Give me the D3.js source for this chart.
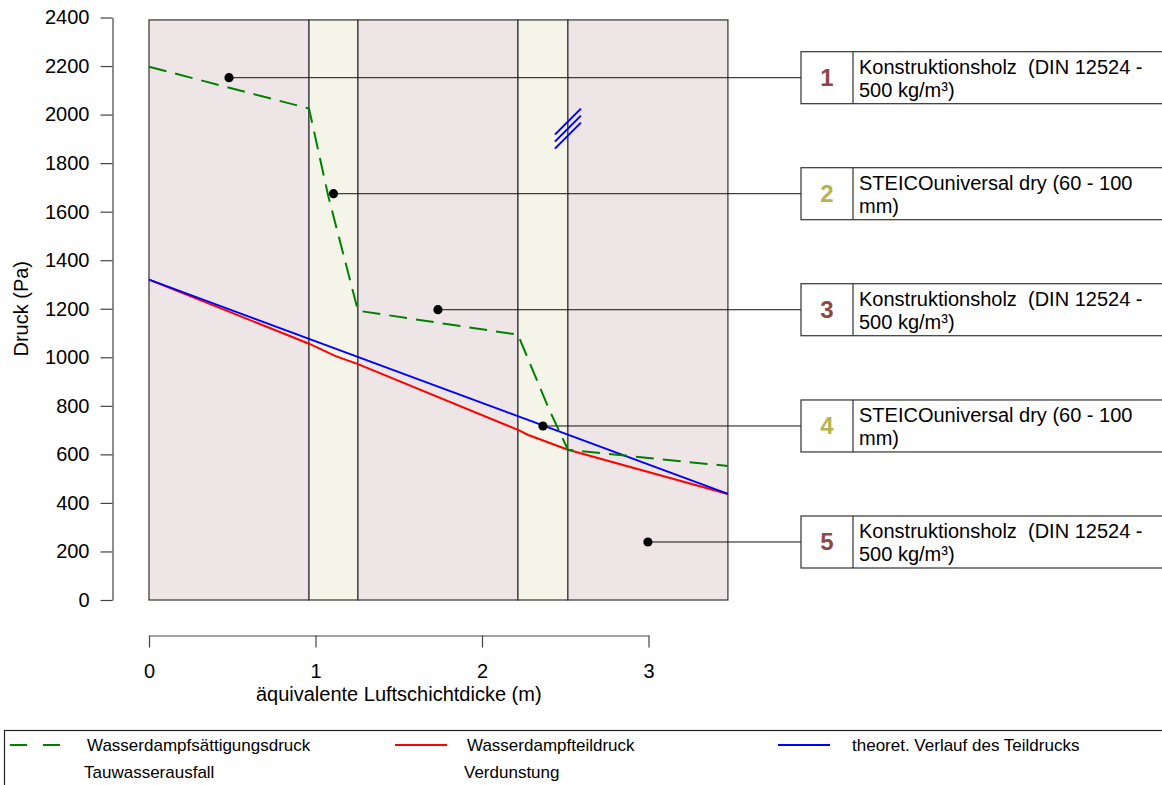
<!DOCTYPE html>
<meta charset="utf-8">
<style>
body { margin: 0; background: #fff; }
svg { font-family: "Liberation Sans", Arial, sans-serif; }
.axis text { font-size: 20px; fill: #000; }
.axis path, .axis line { stroke: #444; stroke-width: 1.2px; }
.boxtext { font-size: 20px; white-space: pre; }
.legtext { font-size: 17px; }
</style>
<svg width="1162" height="785"></svg>
<script src="https://cdn.jsdelivr.net/npm/d3@7/dist/d3.min.js"></script>
<script>

// layer boundaries in equivalent air layer thickness (m)
var layerBounds = [0, 0.961, 1.255, 2.216, 2.516, 3.477];
var layerFill = ["#EEE5E7", "#F4F4E8", "#EEE5E7", "#F4F4E8", "#EEE5E7"];
var layerNumbers = ["1", "2", "3", "4", "5"];
var layerNumColor = ["#8C4848", "#B7B24C", "#8C4848", "#B7B24C", "#8C4848"];
var layerLabels = [
    ["Konstruktionsholz  (DIN 12524 -", "500 kg/m³)"],
    ["STEICOuniversal dry (60 - 100", "mm)"],
    ["Konstruktionsholz  (DIN 12524 -", "500 kg/m³)"],
    ["STEICOuniversal dry (60 - 100", "mm)"],
    ["Konstruktionsholz  (DIN 12524 -", "500 kg/m³)"]
];
// pressure at which the label dot sits for each layer
var labelP = [2152, 1674, 1196, 717, 239];

// saturation pressure (green dashed)
var satX = [0, 0.961, 1.077, 1.255, 2.216, 2.40, 2.516, 3.477];
var satP = [2197, 2025, 1663, 1192, 1093, 790, 619, 552];

// partial pressure (red)
var partX = [0, 0.961, 1.117, 1.255, 2.216, 2.278, 2.516, 3.477];
var partP = [1320, 1056, 1006, 972, 701, 680, 619, 437];

// theoretical partial pressure (blue)
var theoX = [0, 3.477];
var theoP = [1320, 437];

// evaporation marker
var markX = 2.516, markP = 1942;

var yTicks = [0, 200, 400, 600, 800, 1000, 1200, 1400, 1600, 1800, 2000, 2200, 2400];
var xTicks = [0, 1, 2, 3];

var legendItems = [
    {text: "Wasserdampfsättigungsdruck", color: "green", dash: "17,16"},
    {text: "Wasserdampfteildruck", color: "red", dash: null},
    {text: "theoret. Verlauf des Teildrucks", color: "blue", dash: null}
];
var legendItems2 = ["Tauwasserausfall", "Verdunstung"];

var svg = d3.select("svg");

var x = d3.scaleLinear().domain([0, 3]).range([149, 648.5]);
var y = d3.scaleLinear().domain([0, 2400]).range([600, 17.5]);
var panelTop = 2390;

var g = svg.append("g");

// layer backgrounds
var layers = layerFill.map(function(c, i) {
    return {x0: layerBounds[i], x1: layerBounds[i + 1], fill: c, num: layerNumbers[i],
            numColor: layerNumColor[i], label: layerLabels[i], p: labelP[i]};
});

g.selectAll(".layer")
    .data(layers)
    .enter().append("rect")
    .attr("class", "layer")
    .attr("x", function(d) { return x(d.x0); })
    .attr("y", y(panelTop))
    .attr("width", function(d) { return x(d.x1) - x(d.x0); })
    .attr("height", y(0) - y(panelTop))
    .attr("fill", function(d) { return d.fill; })
    .attr("stroke", "#333")
    .attr("stroke-width", 1.2);

// label connectors and boxes
var boxLeft = 801, numW = 52, boxH = 52;

g.selectAll(".conn")
    .data(layers)
    .enter().append("line")
    .attr("x1", function(d) { return x((d.x0 + d.x1) / 2); })
    .attr("x2", boxLeft)
    .attr("y1", function(d) { return y(d.p); })
    .attr("y2", function(d) { return y(d.p); })
    .attr("stroke", "#111")
    .attr("stroke-width", 1);

// lines
var line = d3.line()
    .x(function(d) { return x(d[0]); })
    .y(function(d) { return y(d[1]); });

g.append("path")
    .datum(d3.zip(partX, partP))
    .attr("fill", "none")
    .attr("stroke", "red")
    .attr("stroke-width", 2)
    .attr("d", line);

g.append("path")
    .datum(d3.zip(theoX, theoP))
    .attr("fill", "none")
    .attr("stroke", "blue")
    .attr("stroke-width", 2)
    .attr("d", line);

g.append("path")
    .datum(d3.zip(satX, satP))
    .attr("fill", "none")
    .attr("stroke", "green")
    .attr("stroke-width", 2)
    .attr("stroke-dasharray", "18,9")
    .attr("d", line);

// evaporation hatch
[-7, 0, 7].forEach(function(off) {
    g.append("line")
        .attr("x1", x(markX) - 13).attr("y1", y(markP) + off + 13)
        .attr("x2", x(markX) + 13).attr("y2", y(markP) + off - 13)
        .attr("stroke", "blue")
        .attr("stroke-width", 2);
});

// label dots
g.selectAll(".dot")
    .data(layers)
    .enter().append("circle")
    .attr("cx", function(d) { return x((d.x0 + d.x1) / 2); })
    .attr("cy", function(d) { return y(d.p); })
    .attr("r", 4.6)
    .attr("fill", "#000");

var boxes = svg.selectAll(".box")
    .data(layers)
    .enter().append("g")
    .attr("transform", function(d) { return "translate(" + boxLeft + "," + (y(d.p) - boxH / 2) + ")"; });

boxes.append("rect")
    .attr("width", 400).attr("height", boxH)
    .attr("fill", "#fff").attr("stroke", "#333").attr("stroke-width", 1.2);
boxes.append("line")
    .attr("x1", numW).attr("x2", numW).attr("y1", 0).attr("y2", boxH)
    .attr("stroke", "#333").attr("stroke-width", 1.2);
boxes.append("text")
    .attr("x", numW / 2).attr("y", boxH / 2 + 8.5)
    .attr("text-anchor", "middle")
    .attr("font-size", 24).attr("font-weight", "bold")
    .attr("fill", function(d) { return d.numColor; })
    .text(function(d) { return d.num; });
boxes.append("text")
    .attr("class", "boxtext")
    .attr("x", numW + 6).attr("y", 22)
    .text(function(d) { return d.label[0]; });
boxes.append("text")
    .attr("class", "boxtext")
    .attr("x", numW + 6).attr("y", 45)
    .text(function(d) { return d.label[1]; });

// y axis
svg.append("g")
    .attr("class", "axis")
    .attr("transform", "translate(112.5,0)")
    .call(d3.axisLeft(y).tickValues(yTicks).tickSize(12).tickSizeOuter(0).tickPadding(11).tickFormat(d3.format("d")));

svg.append("text")
    .attr("transform", "translate(28," + ((y(0) + y(2400)) / 2) + ") rotate(-90)")
    .attr("text-anchor", "middle")
    .attr("font-size", 20)
    .text("Druck (Pa)");

// x axis
svg.append("g")
    .attr("class", "axis")
    .attr("transform", "translate(0,635.5)")
    .call(d3.axisBottom(x).tickValues(xTicks).tickSize(12).tickSizeOuter(0).tickPadding(16).tickFormat(d3.format("d")));

svg.append("text")
    .attr("x", (x(0) + x(3)) / 2)
    .attr("y", 701)
    .attr("text-anchor", "middle")
    .attr("font-size", 20)
    .text("äquivalente Luftschichtdicke (m)");

// legend
var leg = svg.append("g");
leg.append("rect")
    .attr("x", 4.5).attr("y", 730.5).attr("width", 1200).attr("height", 100)
    .attr("fill", "#fff").attr("stroke", "#222").attr("stroke-width", 1.2);

var legX = [10, 395, 778];
var legTextX = [87, 467, 852];
legendItems.forEach(function(d, i) {
    leg.append("line")
        .attr("x1", legX[i]).attr("x2", legX[i] + 52)
        .attr("y1", 745).attr("y2", 745)
        .attr("stroke", d.color).attr("stroke-width", 2)
        .attr("stroke-dasharray", d.dash);
    leg.append("text")
        .attr("class", "legtext")
        .attr("x", legTextX[i]).attr("y", 751)
        .text(d.text);
});
legendItems2.forEach(function(t, i) {
    leg.append("text")
        .attr("class", "legtext")
        .attr("x", legTextX[i] - 3).attr("y", 778)
        .text(t);
});

</script>
